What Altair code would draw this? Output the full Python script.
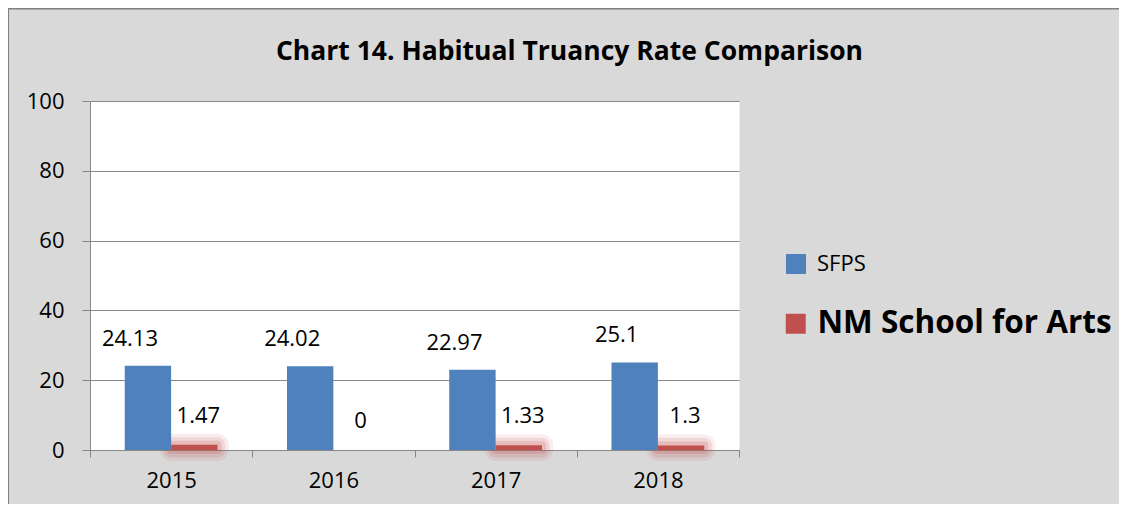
import altair as alt
import pandas as pd

years = ["2015", "2016", "2017", "2018"]
series_names = ["SFPS", "NM School for Arts"]
sfps_values = [24.13, 24.02, 22.97, 25.1]
nm_values = [1.47, 0, 1.33, 1.3]
sfps_labels = ["24.13", "24.02", "22.97", "25.1"]
nm_labels = ["1.47", "0", "1.33", "1.3"]
y_ticks = [0, 20, 40, 60, 80, 100]
title_text = "Chart 14. Habitual Truancy Rate Comparison"

rows = []
for i, yr in enumerate(years):
    rows.append({"year": yr, "series": series_names[0], "value": sfps_values[i], "label": sfps_labels[i]})
    rows.append({"year": yr, "series": series_names[1], "value": nm_values[i], "label": nm_labels[i]})
df = pd.DataFrame(rows)

BLUE = "#4F81BD"
RED = "#C0504D"
GRID = "#878787"
FONT = "Open Sans"
W, H = 649, 349
PAD = {"left": 82, "top": 93, "right": 380, "bottom": 54}

x_enc = alt.X(
    "year:N", sort=years,
    scale=alt.Scale(paddingInner=0, paddingOuter=0),
    axis=alt.Axis(title=None, labelAngle=0, tickBand="extent", tickSize=7, labelPadding=13,
                  labelFontSize=22, labelFont=FONT, labelColor="#000000",
                  domainColor=GRID, tickColor=GRID, grid=False),
)
xoff = alt.XOffset("series:N", sort=series_names,
                   scale=alt.Scale(domain=series_names, paddingInner=0, paddingOuter=0.7485))
y_enc = alt.Y(
    "value:Q",
    scale=alt.Scale(domain=[0, 100], nice=False),
    axis=alt.Axis(title=None, values=y_ticks, tickSize=8, labelPadding=18, labelFontSize=22,
                  labelFont=FONT, labelColor="#000000", grid=True, gridColor=GRID,
                  domainColor=GRID, tickColor=GRID),
)

base = alt.Chart(df)

frame_df = pd.DataFrame({"a": [0]})
border_top = alt.Chart(frame_df).mark_rule(stroke="#808080", strokeWidth=1.5).encode(
    x=alt.value(-82), x2=alt.value(W + 400), y=alt.value(-92.3))
border_left = alt.Chart(frame_df).mark_rule(stroke="#808080", strokeWidth=1.5).encode(
    x=alt.value(-81.7), y=alt.value(-93), y2=alt.value(H + 80))

nm_nonzero = base.transform_filter(
    (alt.datum.series == series_names[1]) & (alt.datum.value > 0)
)
glow_layers = []
for sw, op in [(22, 0.10), (15, 0.14), (8, 0.2)]:
    glow_layers.append(
        nm_nonzero.mark_bar(fillOpacity=0, stroke=RED, strokeWidth=sw, strokeOpacity=op,
                            strokeJoin="round").encode(x=x_enc, xOffset=xoff, y=y_enc)
    )

sfps_bars = base.transform_filter(alt.datum.series == series_names[0]).mark_bar().encode(
    x=x_enc, xOffset=xoff, y=y_enc,
    color=alt.Color("series:N", scale=alt.Scale(domain=[series_names[0]], range=[BLUE]),
                    legend=alt.Legend(orient="none", legendX=695, legendY=152, title=None,
                                      symbolType="square", symbolSize=400, symbolStrokeWidth=0,
                                      labelFontSize=22, labelFont=FONT, labelColor="#000000",
                                      labelOffset=10, padding=0, labelLimit=400)),
)
nm_bars = base.transform_filter(alt.datum.series == series_names[1]).mark_bar().encode(
    x=x_enc, xOffset=xoff, y=y_enc,
    color=alt.Color("series:N", scale=alt.Scale(domain=[series_names[1]], range=[RED]),
                    legend=alt.Legend(orient="none", legendX=690, legendY=207, title=None,
                                      symbolType="square", symbolSize=400, symbolStrokeWidth=0,
                                      labelFontSize=31.5, labelFontWeight="bold", labelFont=FONT,
                                      labelColor="#000000", labelOffset=6, padding=0,
                                      labelLimit=500)),
)

sfps_text = base.transform_filter(alt.datum.series == series_names[0]).mark_text(
    dx=-18, dy=-27, fontSize=22, font=FONT, color="#000000", align="center", baseline="middle"
).encode(x=x_enc, xOffset=xoff, y=y_enc, text="label:N")
nm_text = base.transform_filter(alt.datum.series == series_names[1]).mark_text(
    dx=4, dy=-29, fontSize=22, font=FONT, color="#000000", align="center", baseline="middle"
).encode(x=x_enc, xOffset=xoff, y=y_enc, text="label:N")

chart = alt.layer(
    border_top, border_left, *glow_layers, sfps_bars, nm_bars, sfps_text, nm_text
).resolve_scale(color="independent").properties(
    width=W, height=H, padding=PAD,
    autosize=alt.AutoSizeParams(type="none"),
    background="#D9D9D9",
    title=alt.TitleParams(title_text, font=FONT, fontSize=26.5, fontWeight="bold", color="#000000",
                          anchor="middle", dx=155, offset=-58),
).configure_view(fill="white", stroke="transparent")

chart.save("out.html", embed_options={"renderer": "svg", "actions": False})
